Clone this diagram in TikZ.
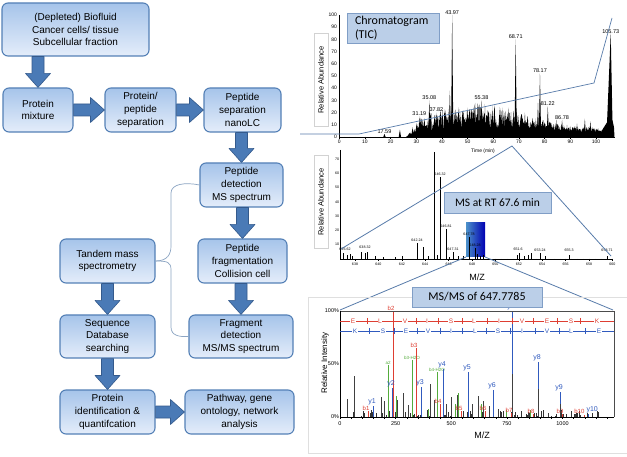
\documentclass[tikz,border=0pt]{standalone}
\usepackage{fontspec}
\setmainfont{Liberation Sans}
\newfontfamily\calfont{Carlito}
\usepackage{tikz}
\usetikzlibrary{calc}

\definecolor{boxtop}{RGB}{166,196,234}
\definecolor{boxbot}{RGB}{228,237,250}
\definecolor{boxline}{RGB}{84,128,182}
\definecolor{arrfill}{RGB}{74,122,182}
\definecolor{arrline}{RGB}{52,90,140}
\definecolor{lblfill}{RGB}{187,207,232}
\definecolor{lblline}{RGB}{128,158,198}
\definecolor{zoomline}{RGB}{88,124,170}
\definecolor{brk}{RGB}{140,165,195}
\definecolor{pkred}{RGB}{222,62,50}
\definecolor{pkblue}{RGB}{48,90,190}
\definecolor{pkgreen}{RGB}{84,172,60}

% block arrows between stages
\newcommand\arrdown[2]{%
  \filldraw[blockarr] ($(#2.north |- #1.south)+(-6,0)$) -- ($(#2.north)+(-6,-14)$)
    -- ($(#2.north)+(-12.5,-14)$) -- (#2.north) -- ($(#2.north)+(12.5,-14)$)
    -- ($(#2.north)+(6,-14)$) -- ($(#2.north |- #1.south)+(6,0)$) -- cycle;}
\newcommand\arrright[2]{%
  \filldraw[blockarr] ($(#1.east |- #2.west)+(0,-6)$) -- ($(#2.west)+(-14,-6)$)
    -- ($(#2.west)+(-14,-12.5)$) -- (#2.west) -- ($(#2.west)+(-14,12.5)$)
    -- ($(#2.west)+(-14,6)$) -- ($(#1.east |- #2.west)+(0,6)$) -- cycle;}

\begin{document}
\begin{tikzpicture}[x=1pt,y=-1pt]
	\tikzstyle{stage} = [draw=boxline, line width=1.1pt, rounded corners=6pt, top color=boxtop, bottom color=boxbot, align=center, inner sep=1pt, minimum height=44pt, font=\fontsize{10}{12.6}\selectfont]
	\tikzstyle{blockarr} = [fill=arrfill, draw=arrline, line width=0.6pt, line join=round]
	\tikzstyle{callout} = [draw=lblline, fill=lblfill, line width=0.6pt, inner sep=2pt, font=\calfont\fontsize{11.5}{13.5}\selectfont]
	\tikzstyle{axlbl} = [rotate=90, inner sep=0pt, font=\fontsize{7.5}{8}\selectfont]
	\tikzstyle{tk} = [inner sep=0.8pt, font=\fontsize{5}{5}\selectfont]
	\tikzstyle{tks} = [inner sep=0.6pt, font=\fontsize{3.6}{4}\selectfont]
	\tikzstyle{pklbl} = [above, inner sep=0.5pt, font=\fontsize{5.5}{6}\selectfont]
	\tikzstyle{ionlbl} = [above, inner sep=0.4pt, font=\fontsize{6}{6}\selectfont]
	\tikzstyle{seqlt} = [fill=white, inner sep=0.5pt, font=\fontsize{6.5}{7}\selectfont]
	\useasboundingbox (0,0) rectangle (627,457);
	\fill[white] (0,0) rectangle (627,457);

	% workflow
	\node[stage, minimum width=147pt, minimum height=53pt] (src) at (75.5,29.5) {(Depleted) Biofluid\\Cancer cells/ tissue\\Subcellular fraction};
	\node[stage, minimum width=70pt] (mix) at (38,110) {Protein\\mixture};
	\node[stage, minimum width=71pt] (psep) at (140.5,110) {Protein/\\peptide\\separation};
	\node[stage, minimum width=77pt] (nano) at (242.5,110) {Peptide\\separation\\nanoLC};
	\node[stage, minimum width=83pt] (detect) at (241.5,185) {Peptide\\detection\\MS spectrum};
	\node[stage, minimum width=89pt] (frag) at (242.5,261) {Peptide\\fragmentation\\Collision cell};
	\node[stage, minimum width=104pt, minimum height=43pt] (fragdet) at (241,336.5) {Fragment\\detection\\MS/MS spectrum};
	\node[stage, minimum width=95pt] (tandem) at (107.5,261) {Tandem mass\\spectrometry};
	\node[stage, minimum width=95pt, minimum height=43pt] (search) at (107.5,336.5) {Sequence\\Database\\searching};
	\node[stage, minimum width=95pt] (ident) at (107.5,412) {Protein\\identification \&\\quantifcation};
	\node[stage, minimum width=109pt] (path) at (239.5,412) {Pathway, gene\\ontology, network\\analysis};

	\foreach \from/\to in {src/mix, nano/detect, detect/frag, frag/fragdet, tandem/search, search/ident}
		{\arrdown{\from}{\to}}
	\foreach \from/\to in {mix/psep, psep/nano, ident/path}
		{\arrright{\from}{\to}}

	\draw[brk, line width=0.7pt] (tandem.east) .. controls +(12,0) and (171,254) .. (171,246) -- (171,193) .. controls (171,184) and (185,182) .. (detect.west);
	\draw[brk, line width=0.7pt] (tandem.east) .. controls +(12,0) and (171,262) .. (171,270) -- (171,327) .. controls (171,336) and (180,337) .. (fragdet.west);

	% chromatogram
	\draw[gray!35] (314,33) rectangle (328,126);
	\node[axlbl] (ra1) at (321,80) {Relative Abundance};
	\pgfmathsetseed{11}
	\begin{scope}[shift={(339.3,137)}, xscale=2.567, yscale=-1.22]
		\fill plot[domain=26:104.6, samples=520] (\x, {min(1,(\x-26)/5)*(3+4*exp(-((\x-60)/30)^2)+rnd*(4+17*exp(-((\x-52)/24)^2)))}) -- (104.6,0) -- (26,0) -- cycle;
		\foreach \tm/\h in {17.59/2.5, 23.6/6, 28.5/8, 31.19/17, 35.08/30, 37.82/20, 40.2/22, 43.07/38, 43.97/100, 46.5/20, 49.8/24, 52.9/28, 55.38/30, 60.5/26, 64.2/20, 65.84/24, 68.71/80, 72.3/20, 77.4/28, 78.17/52, 81.22/25, 84.5/14, 86.78/14, 92.6/11, 95.66/15, 97.8/13}
			\fill (\tm-0.45,0) -- (\tm,\h) -- (\tm+0.45,0) -- cycle;
		\fill (101.5,0) -- (102.5,6) -- (104.3,12) -- (105.73,85) -- (106.4,14) -- (107,8) -- (107.2,0) -- cycle;
		\draw[line width=0.5pt] (0,100) -- (0,0) -- (107.5,0);
		\foreach \tm in {0,2,...,106}
			\draw[line width=0.3pt] (\tm,0) -- (\tm,-1);
		\foreach \tm [count=\n] in {0,10,...,100}
			{\draw[line width=0.4pt] (\tm,0) -- (\tm,-2);
			\node[tk, below] (tx\n) at (\tm,-1.5) {\tm};}
		\foreach \v [count=\n] in {0,10,...,100}
			\node[tk, left] (ty\n) at (-0.5,\v) {\v};
		\foreach \tm/\h [count=\n] in {17.59/2.5, 31.19/17, 35.08/30, 37.82/20, 43.97/100, 55.38/30, 68.71/80, 78.17/52, 81.22/25, 86.78/14, 105.73/84}
			\node[pklbl] (cl\n) at (\tm,\h) {\tm};
	\end{scope}
	\node[tk] (tlab) at (483,151) {Time (min)};
	\draw[zoomline, line width=0.7pt] (300,134) -- (359,134) -- (594,83) -- (612,18);

	% MS at RT 67.6
	\draw[gray!35] (314,155) rectangle (328,248);
	\node[axlbl] (ra2) at (321,202) {Relative Abundance};
	\shade[left color=blue!45!cyan!70!black!70, right color=blue!70!black] (466,223) rectangle (485,257);
	\draw[line width=0.5pt] (340,150) -- (340,259) -- (612,259);
	\foreach \n in {0,...,46}
		\draw[line width=0.3pt] (343.3+5.85*\n,259) -- ++(0,1.5);
	\foreach \n in {0,...,11}
		{\pgfmathtruncatemacro\mzv{638+2*\n}
		\draw[line width=0.4pt] (355+23.4*\n,259) -- ++(0,2.5);
		\node[tks, below] (sx\n) at (355+23.4*\n,262) {\mzv};}
	\foreach \v [count=\n] in {10,20,...,70}
		\node[tks, left] (sy\n) at (340,259-1.43*\v) {\v};
	\foreach \px/\py in {343/253, 347/255, 350/254, 352/256, 361/252, 365/253, 367/252, 375/256, 383/257, 395/257, 402/256, 417/243, 423/247, 428/256, 434/152, 437/255, 440/177, 446/229, 449/257, 453/252, 458/256, 463/256, 469/237, 475/248, 477/254, 480/256, 483/255, 517/255, 519/253, 524/256, 528/255, 531/253, 540/253, 545/256, 569/255, 607/256}
		\draw[line width=0.8pt] (\px,259) -- (\px,\py);
	\foreach \px/\py/\lb [count=\n] in {345/251/636.62, 365/249/638.32, 417/242/642.24, 440/176/646.32, 446/228/646.81, 453/251/647.31, 469/236/647.78, 475/247/648.28, 518/251/651.6, 540/252/653.24, 569/252/655.3, 607/252/658.71}
		\node[tks, above] (sl\n) at (\px,\py) {\lb};
	\node[font=\fontsize{9}{9}\selectfont] (mz1) at (477,277) {M/Z};

	% zoom lines
	\coordinate (rt) at (512,146);
	\draw[zoomline, line width=0.8pt] (rt) -- (341,249);
	\draw[zoomline, line width=0.8pt] (rt) -- (611,256);
	\draw[zoomline, line width=0.8pt] (466,257) -- (340,310);
	\draw[zoomline, line width=0.8pt] (485,257) -- (613,310);

	% MS/MS
	\draw[gray!25] (628,297) -- (308,297) -- (308,453) -- (628,453);
	\node[axlbl, font=\fontsize{8}{8}\selectfont] (ri) at (325,363) {Relative Intensity};
	\foreach \m in {0,50,...,1200}
		\draw[line width=0.4pt] (340+0.2225*\m,417) -- ++(0,2);
	\foreach \m [count=\n] in {0,250,...,1000}
		\node[tk, below, font=\fontsize{5.5}{6}\selectfont] (mx\n) at (340+0.2225*\m,421) {\m};
	\node[tk, left, font=\fontsize{5.5}{6}\selectfont] (p100) at (340,311) {100\%};
	\node[tk, left, font=\fontsize{5.5}{6}\selectfont] (p50) at (340,364) {50\%};
	\node[tk, left, font=\fontsize{5.5}{6}\selectfont] (p0) at (340,417) {0\%};
	\node[font=\fontsize{9}{9}\selectfont] (mz2) at (482,435) {M/Z};
	% background ions
	\pgfmathsetseed{5}
	\foreach \n in {1,...,110}
		{\pgfmathsetmacro\gx{350+rnd*250}
		\pgfmathsetmacro\gy{417-rnd*7}
		\draw[black!80, line width=0.4pt] (\gx,417) -- (\gx,\gy);}
	\foreach \px/\py in {347/399, 354/376, 381/397, 384/401, 397/400, 403/393, 408/405, 412/399, 430/384, 434/400, 446/404, 451/397, 457/395, 472/404, 478/396, 483/401, 489/406, 498/409, 528/412, 548/413, 575/414}
		\draw[black!75, line width=0.7pt] (\px,417) -- (\px,\py);
	\foreach \px/\py in {396/396, 428/409, 455/404, 458/393, 481/404, 506/410, 530/410}
		\draw[pkgreen, line width=0.7pt] (\px,417) -- (\px,\py);
	\foreach \px/\py/\lb [count=\n] in {388/365/a2, 412/360/b3-H2O, 437/372/b4-H2O}
		{\draw[pkgreen, line width=0.8pt] (\px,417) -- (\px,\py);
		\node[ionlbl, text=pkgreen, font=\fontsize{4.5}{5}\selectfont] (gi\n) at (\px,\py) {\lb};}
	\foreach \px/\py [count=\n] in {368/411, 393/311, 416/348, 440/404, 461/411, 485/411, 511/413, 533/414, 562/414}
		{\draw[pkred, line width=0.8pt] (\px,417) -- (\px,\py);
		\node[ionlbl, text=pkred] (bi\n) at (\px-2,\py) {b\n};}
	\draw[pkred, line width=0.8pt] (584,417) -- (584,415);
	\node[ionlbl, text=pkred, anchor=south east] (bi10) at (585,414) {b10};
	\foreach \px/\py [count=\n] in {373/406, 392/388, 421/387, 443/369, 468/372, 493/390, 512/311, 538/362, 560/392}
		{\draw[pkblue, line width=0.8pt] (\px,417) -- (\px,\py);
		\node[ionlbl, text=pkblue, font=\fontsize{7}{7}\selectfont] (yi\n) at (\px-1,\py) {y\n};}
	\draw[pkblue, line width=0.8pt] (588,417) -- (588,414);
	\node[ionlbl, text=pkblue, font=\fontsize{7}{7}\selectfont, anchor=south west] (yi10) at (586,414) {y10};
	\foreach \px/\py in {512/374, 538/389, 560/404}
		\draw[black!75, line width=0.8pt] (\px,417) -- (\px,\py);
	\draw[gray!60!black, line width=0.6pt] (340,311) -- (614,311) -- (614,417);
	\draw[line width=0.6pt] (340,311) -- (340,417) -- (614,417);
	% sequence ladders
	\draw[pkred, line width=0.6pt] (340,321) -- (614,321);
	\draw[pkblue, line width=0.6pt] (340,331) -- (614,331);
	\foreach \px in {367,393,416,438,462,487,512,533,557,580}
		\draw[pkred, line width=0.6pt] (\px,318) -- (\px,324);
	\foreach \px in {369,394,417,440,462,486,510,535,559,585}
		\draw[pkblue, line width=0.6pt] (\px,328) -- (\px,334);
	\foreach \px/\lb [count=\n] in {353/E, 380/L, 405/V, 427/I, 451/S, 474/L, 499/I, 522/V, 547/E, 571/S, 597/K}
		\node[seqlt, text=pkred] (rs\n) at (\px,321) {\lb};
	\foreach \px/\lb [count=\n] in {355/K, 383/S, 406/E, 428/V, 451/I, 475/L, 498/S, 522/I, 547/V, 571/L, 599/E}
		\node[seqlt, text=pkblue] (bs\n) at (\px,331) {\lb};

	% callouts
	\node[callout, minimum width=92pt, minimum height=30pt, text width=76pt, align=left, font=\calfont\fontsize{12}{13.5}\selectfont] (tic) at (393,28) {Chromatogram\\(TIC)};
	\node[callout, minimum width=107pt, minimum height=21pt] (rtbox) at (497.5,202.5) {MS at RT 67.6 min};
	\node[callout, minimum width=130pt, minimum height=20pt, font=\calfont\fontsize{12}{13}\selectfont] (msms) at (477,297) {MS/MS of 647.7785};
\end{tikzpicture}
\end{document}
